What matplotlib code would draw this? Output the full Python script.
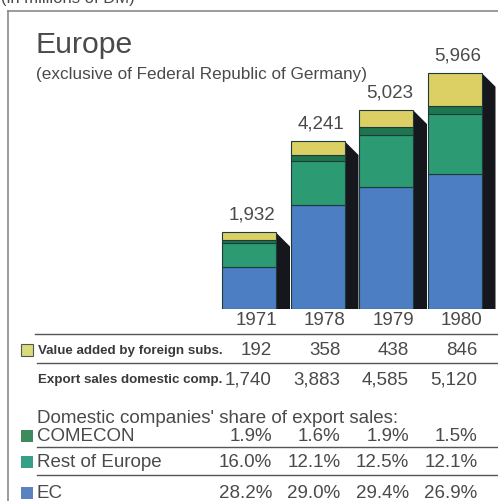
import matplotlib
matplotlib.use('Agg')
import matplotlib.pyplot as plt
from matplotlib.patches import Polygon, Rectangle

# Sales in Europe, in millions of DM
years = ['1971', '1978', '1979', '1980']
totals = [1932, 4241, 5023, 5966]
value_added = [192, 358, 438, 846]
export_sales = [1740, 3883, 4585, 5120]
comecon_pct = [1.9, 1.6, 1.9, 1.5]
rest_pct = [16.0, 12.1, 12.5, 12.1]
ec_pct = [28.2, 29.0, 29.4, 26.9]

C_YELLOW = '#dcd064'
C_COMECON = '#1f7550'
C_REST = '#2c9a72'
C_EC = '#4b7ec2'
C_SHADOW = '#16171d'
C_EDGE = '#1d3b3a'
C_TEXT = '#4a4a4a'

W, H = 498, 502
PX_X = 68.5       # pixels per bar step
PX_Y = 0.0396     # pixels per million DM
BASE = 310        # pixel row of the bar baseline
TOP = 12

plt.rcParams['font.family'] = ['Liberation Sans', 'DejaVu Sans']
fig = plt.figure(figsize=(W / 100, H / 100), dpi=100)

# bar area
ax = fig.add_axes([0, (H - BASE) / H, 1, (BASE - TOP) / H])
ax.set_xlim(-249 / PX_X, (W - 249) / PX_X)
ax.set_ylim(0, (BASE - TOP) / PX_Y)
ax.axis('off')

width = 54 / PX_X
dx, dy = 14 / PX_X, 14 / PX_Y
for i in range(len(years)):
    parts_sum = comecon_pct[i] + rest_pct[i] + ec_pct[i]
    ec = export_sales[i] * ec_pct[i] / parts_sum
    rest = export_sales[i] * rest_pct[i] / parts_sum
    com = export_sales[i] * comecon_pct[i] / parts_sum
    top = export_sales[i] + value_added[i]
    right = i + width / 2
    ax.add_patch(Polygon([(right, top), (right + dx, top - dy), (right + dx, 0), (right, 0)],
                         closed=True, facecolor=C_SHADOW, edgecolor='none', zorder=1))
    bottom = 0
    for val, col in [(ec, C_EC), (rest, C_REST), (com, C_COMECON), (value_added[i], C_YELLOW)]:
        ax.bar(i, val, width, bottom=bottom, color=col, edgecolor=C_EDGE, linewidth=0.8, zorder=2)
        bottom += val
    ax.annotate(f'{totals[i]:,}', (i + 0.05, totals[i]), xytext=(0, 7), textcoords='offset points',
                ha='center', va='bottom', fontsize=13.5, color=C_TEXT)

# frame, headings and the table below the bars, in pixel coordinates
tx = fig.add_axes([0, 0, 1, 1], zorder=-1)
tx.set_xlim(0, W)
tx.set_ylim(H, 0)
tx.axis('off')

tx.plot([8, W], [TOP, TOP], color='#8a8a8a', lw=1.2)
tx.plot([8, 8], [TOP, H], color='#8a8a8a', lw=1.2)
tx.text(1, 3, '(in millions of DM)', fontsize=12, color=C_TEXT, ha='left', va='baseline')
tx.text(35, 45, 'Europe', fontsize=21.7, color=C_TEXT, ha='left', va='center')
tx.text(36, 75, '(exclusive of Federal Republic of Germany)', fontsize=12.3,
        color=C_TEXT, ha='left', va='center')

col_right = [249 + PX_X * i + 27 for i in range(len(years))]
narrow = dict(weight='bold', fontsize=9.6, color='#3a3a3a', va='center', ha='left')
num = dict(fontsize=13.5, color=C_TEXT, va='center', ha='right')

for i, y in enumerate(years):
    tx.text(col_right[i] + 1, 321, y, **num)
tx.plot([35, 497], [335, 335], color='#555555', lw=1.0)

tx.add_patch(Rectangle((21, 345), 12, 12, facecolor='#d8dc7c', edgecolor='#555555', lw=0.8))
tx.text(38, 351, 'Value added by foreign subs.', **narrow)
for i, v in enumerate(value_added):
    tx.text(col_right[i] - 4, 351, f'{v:,}', **num)
tx.plot([37, 497], [364, 364], color='#555555', lw=1.0)

tx.text(38, 380, 'Export sales domestic comp.', **narrow)
for i, v in enumerate(export_sales):
    tx.text(col_right[i] - 4, 380, f'{v:,}', **num)

tx.text(37, 419, "Domestic companies' share of export sales:", fontsize=13.5,
        color=C_TEXT, ha='left', va='center')
rows = [('COMECON', comecon_pct, '#3d8a5c', 437, 448),
        ('Rest of Europe', rest_pct, '#36a087', 463, 476),
        ('EC', ec_pct, '#5a82c0', 494, None)]
for label, vals, col, y, line_y in rows:
    tx.add_patch(Rectangle((21, y - 6), 12, 12, facecolor=col, edgecolor='none'))
    tx.text(37, y, label, fontsize=13.5, color=C_TEXT, ha='left', va='center')
    for i, v in enumerate(vals):
        tx.text(col_right[i] - 4, y, f'{v:.1f}%', **num)
    if line_y is not None:
        tx.plot([37, 497], [line_y, line_y], color='#555555', lw=1.0)

fig.savefig('out.png', dpi=100, facecolor='white')
